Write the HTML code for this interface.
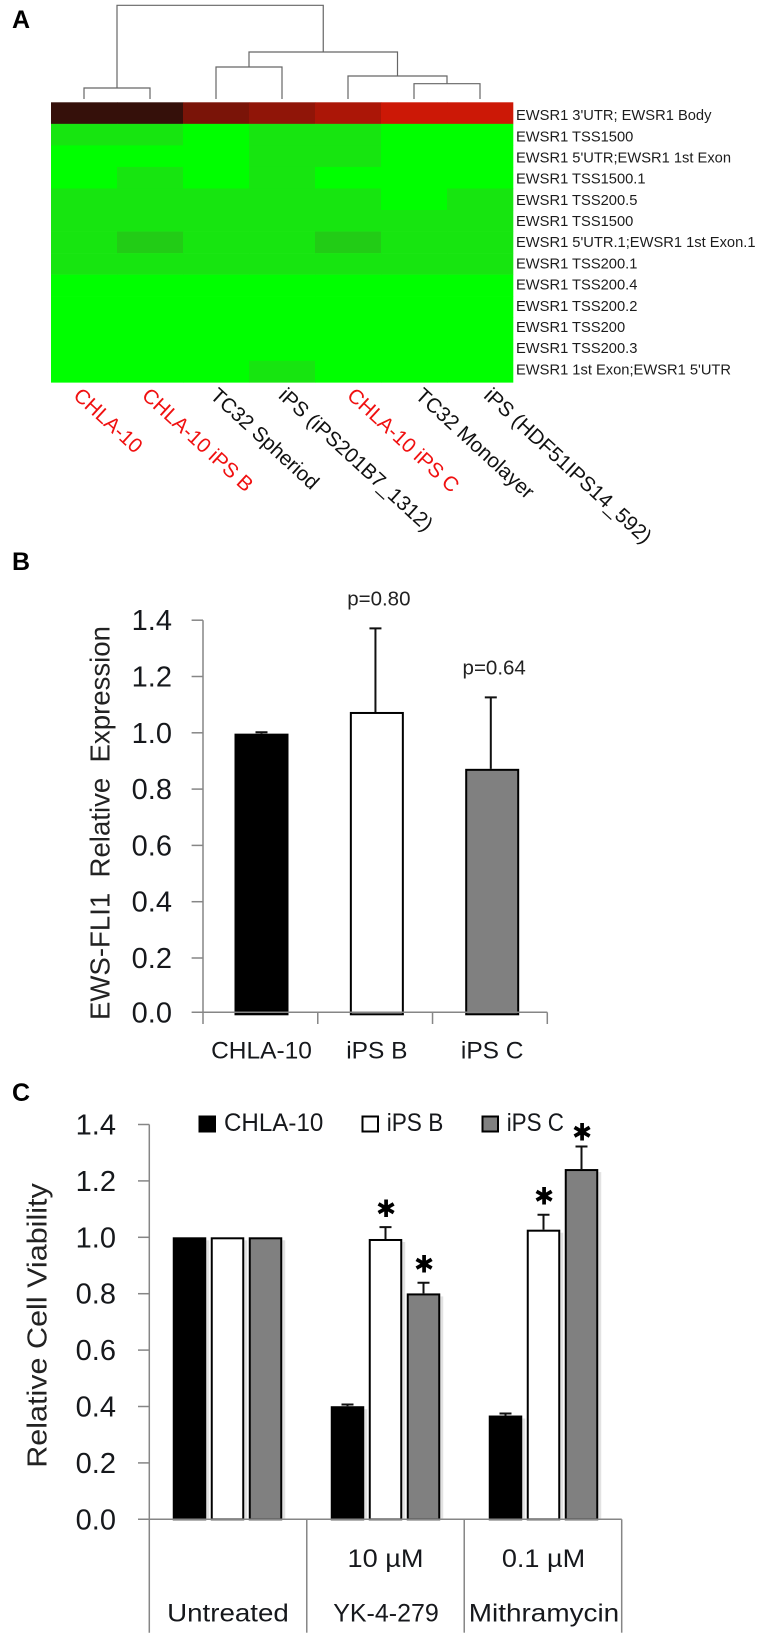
<!DOCTYPE html>
<html lang="en">
<head>
<meta charset="utf-8">
<title>EWSR1 methylation and EWS-FLI1 expression figure</title>
<style>
  html, body { margin: 0; padding: 0; background: #fff; }
  svg { display: block; }
  text { font-family: "Liberation Sans", sans-serif; }
</style>
</head>
<body>
<svg id="figure" xmlns="http://www.w3.org/2000/svg" width="778" height="1638" viewBox="0 0 778 1638">
  <text x="12" y="28" font-size="25" font-weight="bold" fill="#000">A</text>
  <text x="12" y="570" font-size="25" font-weight="bold" fill="#000">B</text>
  <text x="12" y="1101" font-size="25" font-weight="bold" fill="#000">C</text>
  <g id="heatmap"></g>
  <g id="chartB"></g>
  <g id="chartC"></g>
</svg>
<script>
// ---------- Panel A data ----------
const heatSamples = ["CHLA-10", "CHLA-10 iPS B", "TC32 Spheriod", "iPS (iPS201B7_1312)", "CHLA-10 iPS C", "TC32 Monolayer", "iPS (HDF51IPS14_592)"];
const heatSampleIsRed = [true, true, false, false, true, false, false];
const heatProbes = ["EWSR1 3'UTR; EWSR1 Body", "EWSR1 TSS1500", "EWSR1 5'UTR;EWSR1 1st Exon", "EWSR1 TSS1500.1", "EWSR1 TSS200.5", "EWSR1 TSS1500", "EWSR1 5'UTR.1;EWSR1 1st Exon.1", "EWSR1 TSS200.1", "EWSR1 TSS200.4", "EWSR1 TSS200.2", "EWSR1 TSS200", "EWSR1 TSS200.3", "EWSR1 1st Exon;EWSR1 5'UTR"];
const heatValues = [
  [0.5, 0.5, 0.73, 0.8, 0.89, 1, 1],
  [0.1, 0.1, 0, 0.1, 0.1, 0, 0],
  [0, 0, 0, 0.1, 0.1, 0, 0],
  [0, 0.1, 0, 0.1, 0, 0, 0],
  [0.1, 0.1, 0.1, 0.1, 0.1, 0, 0.1],
  [0.1, 0.1, 0.1, 0.1, 0.1, 0.1, 0.1],
  [0.1, 0.2, 0.1, 0.1, 0.2, 0.1, 0.1],
  [0.1, 0.1, 0.1, 0.1, 0.1, 0.1, 0.1],
  [0, 0, 0, 0, 0, 0, 0],
  [0, 0, 0, 0, 0, 0, 0],
  [0, 0, 0, 0, 0, 0, 0],
  [0, 0, 0, 0, 0, 0, 0],
  [0, 0, 0, 0.1, 0, 0, 0]
];
// Each merge: [left node, right node, height]; nodes 0-6 are leaves, 7+ are earlier merges.
const dendroMerges = [[0, 1, 11], [5, 6, 15.3], [2, 3, 32], [4, 8, 23], [9, 10, 47], [7, 11, 93.7]];

// ---------- Panel B data ----------
const bCategories = ["CHLA-10", "iPS B", "iPS C"];
const bValues = [0.997, 1.074, 0.872];
const bErrors = [0.005, 0.297, 0.254];
const bPValues = ["", "p=0.80", "p=0.64"];
const bTicks = ["0.0", "0.2", "0.4", "0.6", "0.8", "1.0", "1.2", "1.4"];

// ---------- Panel C data ----------
const cGroups = ["Untreated", "YK-4-279", "Mithramycin"];
const cDoses = ["", "10 µM", "0.1 µM"];
const cSeriesNames = ["CHLA-10", "iPS B", "iPS C"];
const cChla10 = [1, 0.401, 0.368];
const cIpsB = [1, 0.994, 1.027];
const cIpsC = [1, 0.801, 1.242];
const cChla10Err = [0, 0.006, 0.007];
const cIpsBErr = [0, 0.042, 0.053];
const cIpsCErr = [0, 0.038, 0.08];
const cIpsBStar = [false, true, true];
const cIpsCStar = [false, true, true];
const cTicks = ["0.0", "0.2", "0.4", "0.6", "0.8", "1.0", "1.2", "1.4"];

const NS = "http://www.w3.org/2000/svg";
function make(parent, tag, attrs) {
  const el = document.createElementNS(NS, tag);
  for (const k in attrs) el.setAttribute(k, attrs[k]);
  parent.appendChild(el);
  return el;
}
function label(parent, str, attrs) {
  const el = make(parent, "text", attrs);
  el.textContent = str;
  return el;
}
const INK = "#16181c";
const AXIS = "#868686";
const SERIES_FILL = ["#000000", "#ffffff", "#808080"];

// ---------- Panel A ----------
(function () {
  const g = document.getElementById("heatmap");
  const left = 51, cellW = 66, top = 102.3, cellH = 21.54, dendroBase = 99;
  const colX = i => left + i * cellW;
  const rowY = i => top + i * cellH;
  const colCenter = i => colX(i) + cellW / 2;
  const dendroY = h => dendroBase - h;
  const stops = [[0, [0, 255, 0]], [0.1, [23, 229, 16]], [0.2, [34, 204, 22]], [0.5, [53, 16, 10]], [1, [204, 24, 6]]];
  function heatColor(v) {
    for (let i = 1; i < stops.length; i++) {
      if (v <= stops[i][0]) {
        const a = stops[i - 1], b = stops[i], t = (v - a[0]) / (b[0] - a[0]);
        return "rgb(" + a[1].map((c, k) => Math.round(c + (b[1][k] - c) * t)).join(",") + ")";
      }
    }
    return "rgb(204,24,6)";
  }

  heatValues.forEach((row, r) => {
    row.forEach((v, c) => {
      const cell = make(g, "rect", { x: colX(c), y: rowY(r), width: cellW + 0.3, height: cellH + 0.3, fill: heatColor(v) });
      
      
    });
  });

  heatProbes.forEach((p, r) => {
    const t = label(g, p, { x: 516, y: 120.1 + r * 21.19, "font-size": 14.7, fill: "#1c1c1c" });
    
    
  });

  heatSamples.forEach((s, c) => {
    const x0 = colCenter(c) - 11.7 + c * 2.4, y0 = 397;
    const t = label(g, s, { x: x0, y: y0, "font-size": 20.6, fill: heatSampleIsRed[c] ? "#f01010" : "#111", transform: "rotate(42.5 " + x0 + " " + y0 + ")" });
    
    
  });

  const nodes = heatSamples.map((_, i) => ({ x: colCenter(i), h: 0 }));
  dendroMerges.forEach(m => {
    const a = nodes[m[0]], b = nodes[m[1]], h = m[2];
    const d = "M" + a.x + " " + dendroY(a.h) + "V" + dendroY(h) + "H" + b.x + "V" + dendroY(b.h);
    const link = make(g, "path", { d: d, fill: "none", stroke: "#666", "stroke-width": 1.2 });
    
    
    nodes.push({ x: (a.x + b.x) / 2, h: h });
  });
})();

// ---------- Panel B ----------
(function () {
  const g = document.getElementById("chartB");
  const axisX = 203, axisEnd = 547.3, catW = (axisEnd - axisX) / bCategories.length, barW = 54, tickLeft = 191.6;
  const y = v => 1014.3 - v * 281.5;
  const baseY = y(0) - 2;
  const catCenter = i => 261.5 + i * 115.35;

  bCategories.forEach((c, i) => {
    const cx = catCenter(i);
    const bar = make(g, "rect", { x: cx - barW / 2 + 1, y: y(bValues[i]) + 1, width: barW - 2, height: y(0) - y(bValues[i]) - 1, fill: SERIES_FILL[i], stroke: "#000", "stroke-width": 2 });
    
    
    const top = y(bValues[i] + bErrors[i]);
    const ex = cx - (i ? 1.4 : 0);
    const err = make(g, "path", { d: "M" + (ex - 6) + " " + top + "H" + (ex + 6) + "M" + ex + " " + top + "V" + y(bValues[i]), fill: "none", stroke: "#111", "stroke-width": 2 });
    
    
    const t = label(g, c, { x: cx, y: 1058.3, "font-size": 24.5, "text-anchor": "middle", fill: INK });
    
    
    if (bPValues[i]) {
      const p = label(g, bPValues[i], { x: cx + 2, y: top - 23, "font-size": 20.5, "text-anchor": "middle", fill: "#222" });
      
      
    }
  });

  const yAxis = make(g, "line", { x1: axisX, x2: axisX, y1: y(1.4), y2: 1024, stroke: AXIS, "stroke-width": 1.5 });
  
  
  const xAxis = make(g, "line", { x1: tickLeft, x2: axisEnd, y1: baseY, y2: baseY, stroke: AXIS, "stroke-width": 1.5 });
  
  
  for (let i = 1; i <= bCategories.length; i++) {
    const tick = make(g, "line", { x1: axisX + catW * i, x2: axisX + catW * i, y1: baseY, y2: 1024, stroke: AXIS, "stroke-width": 1.5 });
    
    
  }
  bTicks.forEach(s => {
    const v = parseFloat(s);
    const ty = v === 0 ? baseY : y(v);
    if (v > 0) {
      const tick = make(g, "line", { x1: tickLeft, x2: axisX, y1: ty, y2: ty, stroke: AXIS, "stroke-width": 1.5 });
      
      
    }
    const t = label(g, s, { x: 172, y: ty + 10, "font-size": 29, "text-anchor": "end", fill: INK });
    
    
  });
  const title = label(g, "EWS-FLI1  Relative  Expression", { x: 0, y: 0, "font-size": 28, fill: "#222", "xml:space": "preserve", style: "white-space:pre", textLength: 394, lengthAdjust: "spacingAndGlyphs", transform: "translate(109.5 1020) rotate(-90)" });
  
  
})();

// ---------- Panel C ----------
(function () {
  const g = document.getElementById("chartC");
  const axisX = 149.3, axisEnd = 621.7, groupW = (axisEnd - axisX) / cGroups.length, barW = 33.5, step = 38, bottom = 1632.7, tickLeft = 138;
  const y = v => 1519.3 - v * 282;
  const groupCenter = i => 227.5 + i * 158;
  const series = [cChla10, cIpsB, cIpsC];
  const errors = [cChla10Err, cIpsBErr, cIpsCErr];
  const stars = [null, cIpsBStar, cIpsCStar];
  const groupLabelW = [121.7, 105.6, 150.4];
  const doseLabelW = [0, 76, 83.3];

  cGroups.forEach((name, gi) => {
    series.forEach((vals, si) => {
      const cx = groupCenter(gi) + (si - 1) * step;
      const shadow = make(g, "rect", { x: cx + barW / 2, y: y(vals[gi]) + 3, width: 3, height: y(0) - y(vals[gi]) - 3, fill: "#e2e2e2" });
      
      
      const bar = make(g, "rect", { x: cx - barW / 2 + 1, y: y(vals[gi]) + 1, width: barW - 2, height: y(0) - y(vals[gi]) - 1, fill: SERIES_FILL[si], stroke: "#000", "stroke-width": 2 });
      
      
      const e = errors[si][gi];
      if (e > 0) {
        const top = y(vals[gi] + e);
        const err = make(g, "path", { d: "M" + (cx - 6) + " " + top + "H" + (cx + 6) + "M" + cx + " " + top + "V" + y(vals[gi]), fill: "none", stroke: "#111", "stroke-width": 2 });
        
        
        if (stars[si] && stars[si][gi]) {
          const starY = Math.max(top - 10, 1140.7);
          const st = label(g, "✱", { x: cx + 0.5, y: starY, "font-size": 24, "text-anchor": "middle", fill: "#000", style: "font-family:'DejaVu Sans',sans-serif" });
          
          
        }
      }
    });
    const t = label(g, name, { x: groupCenter(gi) + 0.5, y: 1621.7, "font-size": 25, "text-anchor": "middle", fill: INK, textLength: groupLabelW[gi], lengthAdjust: "spacingAndGlyphs" });
    
    
    if (cDoses[gi]) {
      const d = label(g, cDoses[gi], { x: groupCenter(gi), y: 1567, "font-size": 25, "text-anchor": "middle", fill: INK, textLength: doseLabelW[gi], lengthAdjust: "spacingAndGlyphs" });
      
      
    }
  });

  const yAxis = make(g, "line", { x1: axisX, x2: axisX, y1: y(1.4), y2: bottom, stroke: AXIS, "stroke-width": 1.5 });
  
  
  const xAxis = make(g, "line", { x1: tickLeft, x2: axisEnd, y1: y(0), y2: y(0), stroke: AXIS, "stroke-width": 1.5 });
  
  
  for (let i = 1; i <= cGroups.length; i++) {
    const div = make(g, "line", { x1: axisX + groupW * i, x2: axisX + groupW * i, y1: y(0), y2: bottom, stroke: AXIS, "stroke-width": 1.5 });
    
    
  }
  cTicks.forEach(s => {
    const v = parseFloat(s);
    if (v > 0) {
      const tick = make(g, "line", { x1: tickLeft, x2: axisX, y1: y(v), y2: y(v), stroke: AXIS, "stroke-width": 1.5 });
      
      
    }
    const t = label(g, s, { x: 116, y: y(v) + 10, "font-size": 29, "text-anchor": "end", fill: INK });
    
    
  });
  const title = label(g, "Relative Cell Viability", { x: 0, y: 0, "font-size": 28, fill: "#222", textLength: 284.6, lengthAdjust: "spacingAndGlyphs", transform: "translate(46.5 1467.8) rotate(-90)" });
  
  

  const legendSwatchX = [198.5, 361.5, 481.5];
  const legendTextX = [224, 386.7, 506.7];
  const legendTextW = [99.3, 56.6, 57.3];
  cSeriesNames.forEach((n, i) => {
    const sw = make(g, "rect", { x: legendSwatchX[i] + 1, y: 1116.5, width: 15.5, height: 15, fill: SERIES_FILL[i], stroke: "#000", "stroke-width": 2 });
    
    
    const t = label(g, n, { x: legendTextX[i], y: 1131, "font-size": 25, fill: INK, textLength: legendTextW[i], lengthAdjust: "spacingAndGlyphs" });
    
    
  });
})();
</script>
</body>
</html>
